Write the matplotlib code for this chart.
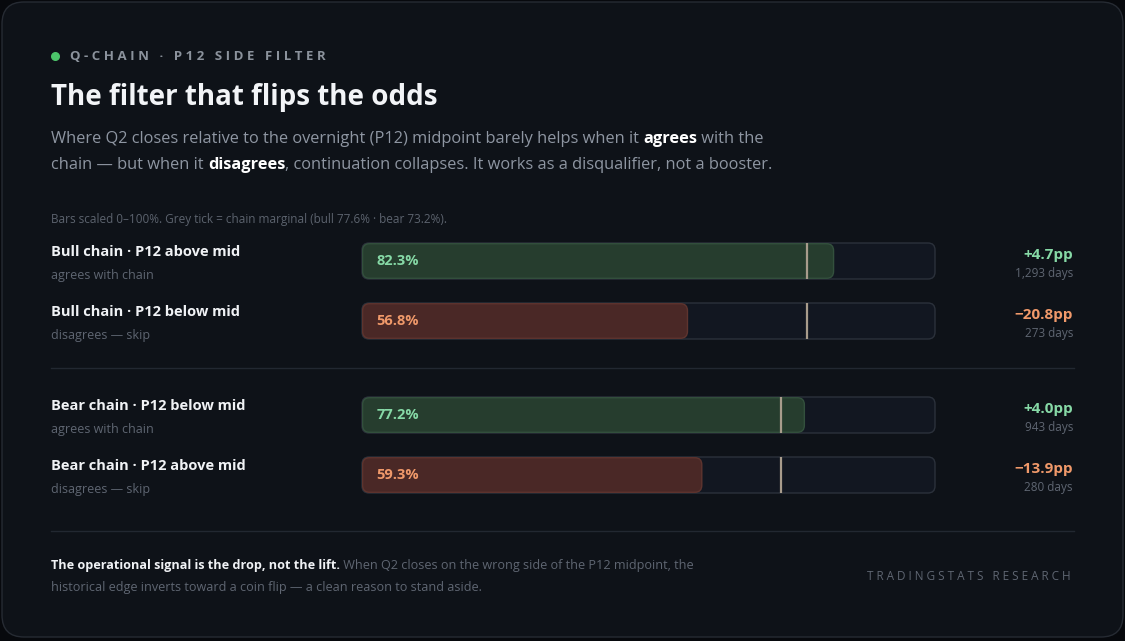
import matplotlib
matplotlib.use("Agg")
import matplotlib.pyplot as plt
from matplotlib.patches import FancyBboxPatch

labels = ["Bull chain · P12 above mid", "Bull chain · P12 below mid",
          "Bear chain · P12 below mid", "Bear chain · P12 above mid"]
sublabels = ["agrees with chain", "disagrees — skip", "agrees with chain", "disagrees — skip"]
values = [82.3, 56.8, 77.2, 59.3]
marginals = [77.6, 77.6, 73.2, 73.2]
deltas = ["+4.7pp", "−20.8pp", "+4.0pp", "−13.9pp"]
days = ["1,293 days", "273 days", "943 days", "280 days"]
agrees = [True, False, True, False]

W, H = 1125, 641
fig = plt.figure(figsize=(W/100, H/100), dpi=100)
fig.patch.set_facecolor("#07090d")
bg = fig.add_axes([0, 0, 1, 1])
bg.set_xlim(0, W); bg.set_ylim(H, 0); bg.axis("off")
bg.add_patch(FancyBboxPatch((2, 2), W-4, H-6, boxstyle="round,pad=0,rounding_size=22",
                            fc="#0e1218", ec="#262b33", lw=1))
F = ["Open Sans", "DejaVu Sans"]
r = fig.canvas.get_renderer()

def rich(x, y, parts, fs=12.2):
    for s, b, c in parts:
        tx = bg.text(x, y, s, color=c, fontsize=fs, weight="bold" if b else "normal",
                     va="center", family=F)
        x += tx.get_window_extent(r).width
    return x

bg.scatter([55], [56], s=30, color="#4cc46a")
bg.text(70, 56, " ".join("Q-CHAIN · P12 SIDE FILTER"), color="#8b929c", fontsize=9.5,
        weight="bold", va="center", family=F)
bg.text(51, 98, "The filter that flips the odds", color="#f2f4f7", fontsize=20, weight="bold",
        va="center", family=F)
grey = "#8e96a2"
rich(51, 139, [("Where Q2 closes relative to the overnight (P12) midpoint barely helps when it ", False, grey),
               ("agrees", True, "#ffffff"), (" with the", False, grey)], fs=11.8)
rich(51, 165, [("chain — but when it ", False, grey), ("disagrees", True, "#ffffff"),
               (", continuation collapses. It works as a disqualifier, not a booster.", False, grey)], fs=11.8)
bg.text(51, 220, "Bars scaled 0–100%. Grey tick = chain marginal (bull 77.6% · bear 73.2%).",
        color="#5c636e", fontsize=8.5, va="center", family=F)

ycent = [261, 321, 415, 475]
tx0, tw, th = 362, 573, 36
for i in range(4):
    yc = ycent[i]
    good = agrees[i]
    acc = "#86d9a6" if good else "#f0996a"
    bg.text(51, yc-9, labels[i], color="#f0f2f5", fontsize=10.5, weight="bold", va="center", family=F)
    bg.text(51, yc+14, sublabels[i], color="#5f6672", fontsize=9, va="center", family=F)
    bg.add_patch(FancyBboxPatch((tx0, yc-th/2), tw, th, boxstyle="round,pad=0,rounding_size=7",
                                fc="#121721", ec="#2b313b", lw=1))
    ax = fig.add_axes([tx0/W, 1-(yc+th/2)/H, tw/W, th/H])
    ax.set_xlim(0, 100); ax.set_ylim(0, 1); ax.axis("off")
    rs = 7/(tw/100)
    asp = (1/th)/(1/(tw/100))
    fc = "#263d2e" if good else "#4a2826"
    ec = "#33503d" if good else "#5e342e"
    ax.add_patch(FancyBboxPatch((0.1, 0.02), values[i]-0.1, 0.96,
                                boxstyle=f"round,pad=0,rounding_size={rs}", mutation_aspect=asp,
                                fc=fc, ec=ec, lw=1))
    ax.axvline(marginals[i], 0.03, 0.97, color="#a89c8c", lw=1.6)
    ax.text(2.5, 0.5, f"{values[i]:.1f}%", color=acc, fontsize=10.5, weight="bold",
            va="center", family=F)
    bg.text(1073, yc-6, deltas[i], color=acc, fontsize=11, weight="bold", ha="right",
            va="center", family=F)
    bg.text(1073, yc+13, days[i], color="#5f6672", fontsize=8.5, ha="right", va="center", family=F)

for y in (368, 531):
    bg.plot([51, 1074], [y, y], color="#222831", lw=1)
rich(51, 566, [("The operational signal is the drop, not the lift.", True, "#f0f2f5"),
               (" When Q2 closes on the wrong side of the P12 midpoint, the", False, "#5f6672")], fs=9.1)
bg.text(51, 588, "historical edge inverts toward a coin flip — a clean reason to stand aside.",
        color="#5f6672", fontsize=9.1, va="center", family=F)
bg.text(1071, 577, " ".join("TRADINGSTATS RESEARCH"), color="#5f6672", fontsize=8.5,
        ha="right", va="center", family=F)
fig.savefig("out.png", dpi=100, facecolor=fig.get_facecolor())
